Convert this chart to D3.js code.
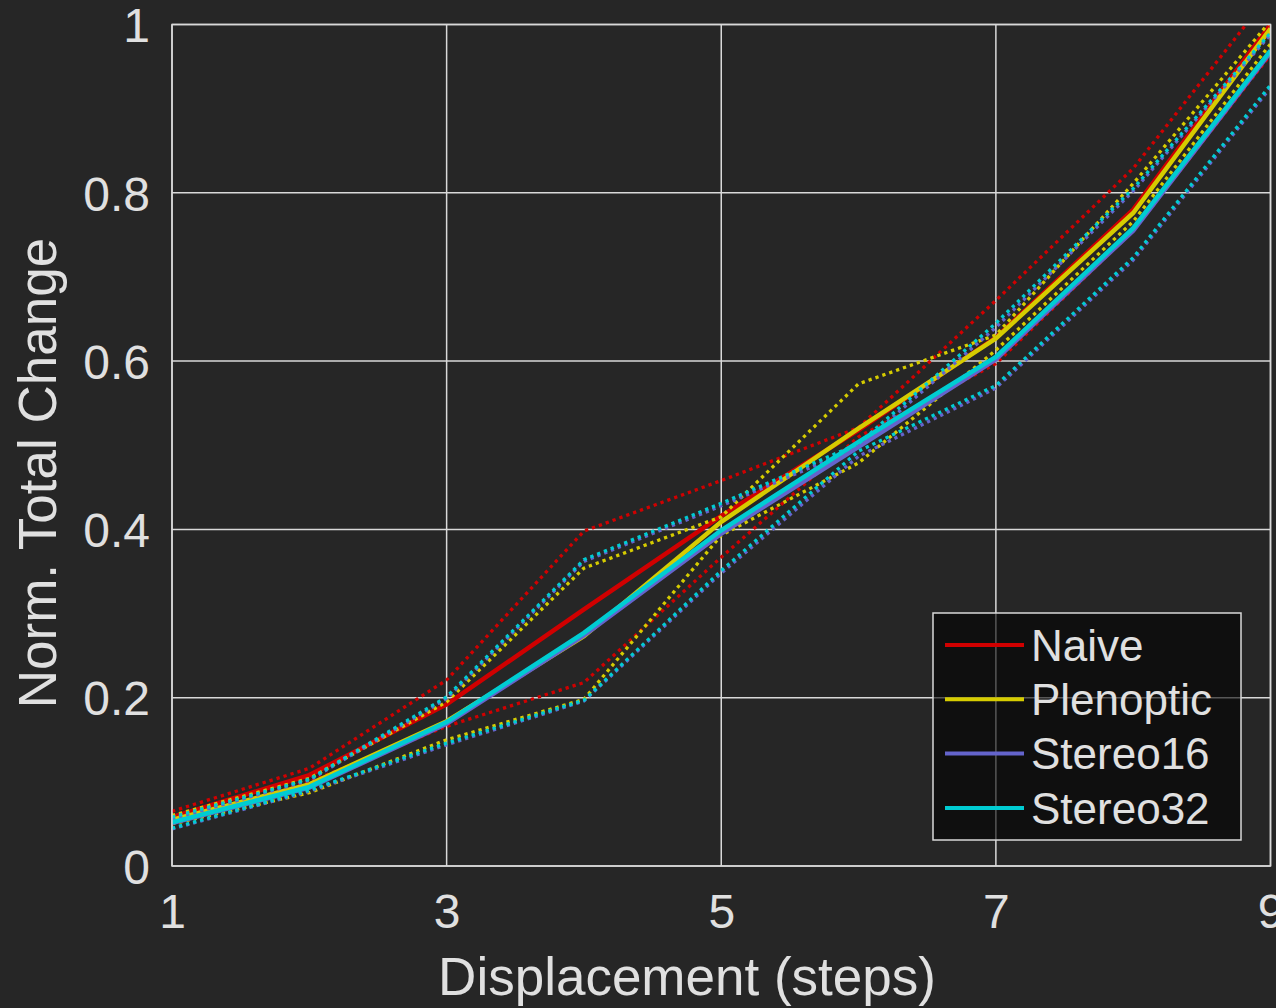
<!DOCTYPE html>
<html>
<head>
<meta charset="utf-8">
<script src="https://cdn.jsdelivr.net/npm/d3@7"></script>
<style>
  html, body { margin: 0; padding: 0; background: #262626; overflow: hidden; }
  svg { display: block; font-family: "Liberation Sans", Arial, sans-serif; }
</style>
</head>
<body>
<svg></svg>
<script>
var width = 1276, height = 1008;
var margin = {top: 24.5, right: 5, bottom: 142, left: 172};

// displacement steps on the x axis
var steps = [1, 2, 3, 4, 5, 6, 7, 8, 9];

// solid = mean, dotted = the two bounding runs
var naiveMean  = [0.058, 0.108, 0.192, 0.305, 0.416, 0.518, 0.628, 0.780, 1.000];
var naiveHigh  = [0.065, 0.116, 0.221, 0.398, 0.458, 0.521, 0.672, 0.829, 1.037];
var naiveLow   = [0.052, 0.100, 0.166, 0.218, 0.367, 0.510, 0.597, 0.755, 0.964];

var plenMean   = [0.055, 0.097, 0.172, 0.273, 0.409, 0.520, 0.627, 0.776, 0.995];
var plenHigh   = [0.060, 0.104, 0.195, 0.354, 0.415, 0.573, 0.631, 0.811, 1.004];
var plenLow    = [0.050, 0.087, 0.150, 0.198, 0.393, 0.479, 0.613, 0.766, 0.977];

var st16Mean   = [0.051, 0.093, 0.169, 0.274, 0.395, 0.498, 0.602, 0.755, 0.967];
var st16High   = [0.056, 0.102, 0.199, 0.362, 0.428, 0.498, 0.640, 0.802, 0.988];
var st16Low    = [0.044, 0.089, 0.144, 0.196, 0.348, 0.487, 0.568, 0.720, 0.925];

var st32Mean   = [0.052, 0.094, 0.171, 0.277, 0.399, 0.504, 0.605, 0.758, 0.969];
var st32High   = [0.058, 0.103, 0.201, 0.364, 0.431, 0.502, 0.645, 0.805, 0.990];
var st32Low    = [0.045, 0.090, 0.146, 0.197, 0.351, 0.493, 0.571, 0.723, 0.928];

var methods = ['Naive', 'Plenoptic', 'Stereo16', 'Stereo32'];
var colors  = ['#d00000', '#d6cc00', '#6464cc', '#00ccd2'];

var xTicks = [1, 3, 5, 7, 9];
var yTicks = [0, 0.2, 0.4, 0.6, 0.8, 1];

var series = [
  {name: methods[0], color: colors[0], mean: naiveMean, high: naiveHigh, low: naiveLow},
  {name: methods[1], color: colors[1], mean: plenMean,  high: plenHigh,  low: plenLow},
  {name: methods[2], color: colors[2], mean: st16Mean,  high: st16High,  low: st16Low},
  {name: methods[3], color: colors[3], mean: st32Mean,  high: st32High,  low: st32Low}
];

var svg = d3.select('svg')
    .attr('width', width)
    .attr('height', height);

var plotW = width - margin.left - margin.right - 0.5;
var plotH = height - margin.top - margin.bottom;

var x = d3.scaleLinear().domain([1, 9]).range([0, plotW]);
var y = d3.scaleLinear().domain([0, 1]).range([plotH, 0]);

var g = svg.append('g')
    .attr('transform', 'translate(' + margin.left + ',' + margin.top + ')');

g.append('clipPath').attr('id', 'clip')
  .append('rect')
    .attr('width', plotW)
    .attr('height', plotH);

// grid
var gridColor = '#d9d9d9';
g.append('g').selectAll('line')
  .data(xTicks)
  .enter().append('line')
    .attr('x1', function(d) { return x(d); })
    .attr('x2', function(d) { return x(d); })
    .attr('y1', 0)
    .attr('y2', plotH)
    .attr('stroke', gridColor)
    .attr('stroke-width', 1.5);

g.append('g').selectAll('line')
  .data(yTicks)
  .enter().append('line')
    .attr('x1', 0)
    .attr('x2', plotW)
    .attr('y1', function(d) { return y(d); })
    .attr('y2', function(d) { return y(d); })
    .attr('stroke', gridColor)
    .attr('stroke-width', 1.5);

// axes with tick labels only
var xAxis = d3.axisBottom(x).tickValues(xTicks).tickSize(0).tickPadding(28)
    .tickFormat(d3.format('d'));
var yAxis = d3.axisLeft(y).tickValues(yTicks).tickSize(0).tickPadding(22)
    .tickFormat(function(d) { return d === 0 || d === 1 ? String(d) : d3.format('.1f')(d); });

g.append('g')
    .attr('transform', 'translate(0,' + plotH + ')')
    .call(xAxis)
    .call(function(a) {
      a.select('.domain').remove();
      a.selectAll('text')
        .attr('fill', '#e0e0e0')
        .attr('font-size', 48)
        .attr('dy', '0.71em');
    });

g.append('g')
    .call(yAxis)
    .call(function(a) {
      a.select('.domain').remove();
      a.selectAll('text')
        .attr('fill', '#e0e0e0')
        .attr('font-size', 48)
        .attr('dy', '0.36em');
    });

// data lines
var line = d3.line()
    .x(function(d, i) { return x(steps[i]); })
    .y(function(d) { return y(d); });

var lines = g.append('g').attr('clip-path', 'url(#clip)');

series.forEach(function(s) {
  lines.append('path')
      .attr('d', line(s.mean))
      .attr('fill', 'none')
      .attr('stroke', s.color)
      .attr('stroke-width', 4.5);
  [s.high, s.low].forEach(function(vals) {
    lines.append('path')
        .attr('d', line(vals))
        .attr('fill', 'none')
        .attr('stroke', s.color)
        .attr('stroke-width', 3.3)
        .attr('stroke-dasharray', '3.3,4');
  });
});

// axes box
g.append('rect')
    .attr('width', plotW)
    .attr('height', plotH)
    .attr('fill', 'none')
    .attr('stroke', gridColor)
    .attr('stroke-width', 1.5);

// axis titles
svg.append('text')
    .attr('x', 687)
    .attr('y', 995)
    .attr('text-anchor', 'middle')
    .attr('fill', '#e0e0e0')
    .attr('font-size', 53)
    .text('Displacement (steps)');

svg.append('text')
    .attr('transform', 'translate(56,473) rotate(-90)')
    .attr('text-anchor', 'middle')
    .attr('fill', '#e0e0e0')
    .attr('font-size', 53)
    .text('Norm. Total Change');

// legend
var legend = svg.append('g').attr('transform', 'translate(933,613)');
legend.append('rect')
    .attr('width', 308)
    .attr('height', 227)
    .attr('fill', 'rgba(0,0,0,0.6)')
    .attr('stroke', gridColor)
    .attr('stroke-width', 1.5);

var item = legend.selectAll('g.item')
  .data(series)
  .enter().append('g')
    .attr('class', 'item')
    .attr('transform', function(d, i) { return 'translate(0,' + (32 + i * 54.3) + ')'; });

item.append('line')
    .attr('x1', 12)
    .attr('x2', 91)
    .attr('stroke', function(d) { return d.color; })
    .attr('stroke-width', 4);

item.append('text')
    .attr('x', 98)
    .attr('dy', '0.36em')
    .attr('fill', '#e0e0e0')
    .attr('font-size', 44)
    .text(function(d) { return d.name; });
</script>
</body>
</html>
